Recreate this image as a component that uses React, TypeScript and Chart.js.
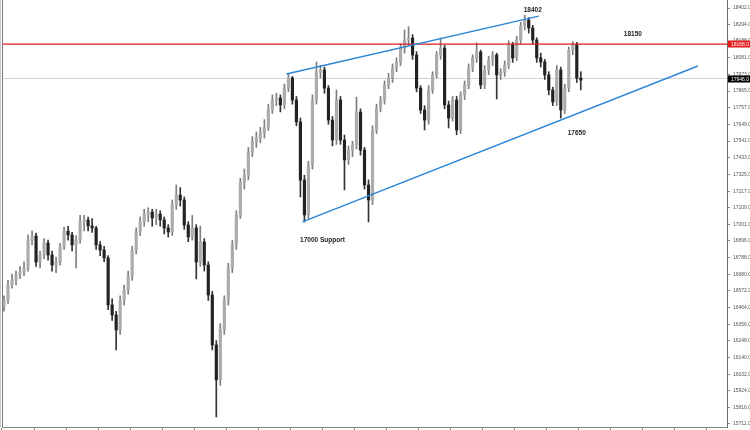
import { useEffect, useRef } from 'react';
import { Chart, registerables } from 'chart.js';

Chart.register(...registerables);

// ---- data (index chart, daily candles) ----
const opens = [
  16470, 16513, 16610, 16642, 16675, 16694, 16720, 16901, 16927, 16759,
  16804, 16882, 16804, 16739, 16759, 16856, 16959, 16934, 16869, 16901,
  17018, 17031, 16992, 16979, 16869, 16836, 16785, 16481, 16416, 16319,
  16513, 16578, 16668, 16836, 16953, 17018, 17069, 17082, 17044, 17069,
  17031, 16979, 16953, 17128, 17192, 17160, 16998, 16921, 16979, 16759,
  16888, 16739, 16545, 16222, 15996, 16319, 16513, 16720, 16869, 17063,
  17276, 17322, 17470, 17535, 17561, 17593, 17632, 17742, 17807, 17820,
  17775, 17884, 17949, 17807, 17665, 17289, 17063, 17386, 17807, 17988,
  18001, 17884, 17677, 17548, 17807, 17548, 17419, 17483, 17516, 17729,
  17483, 17257, 17160, 17613, 17755, 17807, 17904, 17949, 18014, 18053,
  18143, 18195, 18208, 18098, 17884, 17742, 17677, 17872, 17969, 18098,
  18143, 17775, 17690, 17807, 17613, 17839, 17904, 18014, 18079, 18117,
  17904, 18001, 18066, 18098, 17969, 17988, 18033, 18163, 18079, 18195,
  18286, 18324, 18273, 18195, 18079, 18053, 17969, 17872, 17794, 18001,
  17742, 17884, 18130, 18163, 17949,
];
const highs = [
  16540, 16640, 16680, 16700, 16730, 16760, 16935, 16960, 16945, 16830,
  16910, 16900, 16830, 16790, 16880, 16985, 16990, 16950, 16930, 17060,
  17060, 17050, 17040, 16990, 16890, 16860, 16800, 16520, 16440, 16540,
  16610, 16700, 16860, 16980, 17050, 17100, 17110, 17100, 17100, 17090,
  17050, 17000, 17160, 17257, 17240, 17180, 17020, 17060, 17000, 16992,
  16910, 16760, 16570, 16250, 16360, 16540, 16750, 16900, 17090, 17300,
  17360, 17500, 17570, 17600, 17630, 17680, 17780, 17840, 17850, 17840,
  17910, 17975, 17960, 17830, 17690, 17320, 17410, 17840, 18053, 18030,
  18020, 17900, 17700, 17872, 17830, 17580, 17510, 17540, 17826, 17750,
  17500, 17290, 17640, 17780, 17830, 17930, 17980, 18040, 18080, 18170,
  18260, 18281, 18230, 18120, 17900, 17770, 17900, 17990, 18120, 18208,
  18160, 17800, 17830, 17830, 17860, 17930, 18040, 18100, 18177, 18130,
  18030, 18090, 18120, 18110, 18010, 18060, 18190, 18180, 18220, 18310,
  18356, 18340, 18290, 18210, 18110, 18070, 17990, 17890, 18030, 18020,
  17910, 18150, 18184, 18180, 17990,
];
const lows = [
  16440, 16490, 16590, 16610, 16650, 16670, 16700, 16870, 16730, 16720,
  16780, 16770, 16700, 16690, 16740, 16840, 16900, 16830, 16720, 16880,
  16960, 16960, 16950, 16840, 16800, 16760, 16450, 16380, 16190, 16290,
  16480, 16550, 16640, 16810, 16930, 16990, 17020, 16990, 17000, 16990,
  16940, 16920, 16930, 17100, 17120, 16970, 16890, 16900, 16649, 16730,
  16700, 16510, 16190, 15756, 15960, 16290, 16480, 16690, 16840, 17040,
  17230, 17290, 17440, 17500, 17530, 17560, 17610, 17720, 17770, 17730,
  17750, 17860, 17780, 17640, 17180, 17018, 17040, 17360, 17780, 17950,
  17850, 17650, 17510, 17520, 17520, 17225, 17390, 17440, 17490, 17450,
  17230, 17018, 17130, 17590, 17730, 17780, 17880, 17920, 17990, 18030,
  18110, 18160, 18070, 17860, 17720, 17613, 17650, 17850, 17950, 18070,
  17750, 17626, 17670, 17582, 17590, 17810, 17880, 17990, 18050, 17880,
  17880, 17970, 18030, 17813, 17940, 17960, 18010, 18050, 18060, 18170,
  18260, 18240, 18170, 18050, 18020, 17940, 17840, 17770, 17770, 17690,
  17720, 17860, 18100, 17920, 17872,
];
const closes = [
  16513, 16610, 16642, 16675, 16694, 16720, 16901, 16927, 16759, 16804,
  16882, 16804, 16739, 16759, 16856, 16959, 16934, 16869, 16901, 17018,
  17031, 16992, 16979, 16869, 16836, 16785, 16481, 16416, 16319, 16513,
  16578, 16668, 16836, 16953, 17018, 17069, 17082, 17044, 17069, 17031,
  16979, 16953, 17128, 17192, 17160, 16998, 16921, 16979, 16759, 16888,
  16739, 16545, 16222, 15996, 16319, 16513, 16720, 16869, 17063, 17276,
  17322, 17470, 17535, 17561, 17593, 17632, 17742, 17807, 17820, 17775,
  17884, 17949, 17807, 17665, 17289, 17063, 17386, 17807, 17988, 18001,
  17884, 17677, 17548, 17807, 17548, 17419, 17483, 17516, 17729, 17483,
  17257, 17160, 17613, 17755, 17807, 17904, 17949, 18014, 18053, 18143,
  18195, 18208, 18098, 17884, 17742, 17677, 17872, 17969, 18098, 18143,
  17775, 17690, 17807, 17613, 17839, 17904, 18014, 18079, 18117, 17904,
  18001, 18066, 18098, 17969, 17988, 18033, 18163, 18079, 18195, 18286,
  18324, 18273, 18195, 18079, 18053, 17969, 17872, 17794, 18001, 17742,
  17884, 18130, 18163, 17949, 17936,
];

const SLOT_COUNT = 181; // candle slots including empty space on the right
const slotLabels = Array.from({ length: SLOT_COUNT }, (_, i) => String(i));

const yTickValues = [
  18402, 18294, 18188, 18081, 17973, 17865, 17757, 17649, 17541, 17433,
  17325, 17217, 17109, 17001, 16896, 16788, 16680, 16572, 16464, 16356,
  16248, 16140, 16032, 15924, 15816, 15711,
];
const yMin = 15691;
const yMax = 18454;

const resistanceLevel = 18168;
const lastPrice = 17946;

// trend lines: [startIndex, startValue, endIndex, endValue]
const upperTrend = [70.5, 17975, 133.5, 18350];
const lowerTrend = [74.5, 17018, 173.25, 18027];

// text notes: label, slot index (centre), value
const noteLabels = ['18402', '18150', '17650', '17000 Support'];
const noteIndex = [132, 157, 143, 79.5];
const noteValue = [18389, 18234, 17593, 16901];

const UP_BODY = '#ababab';
const UP_WICK = '#7e7e7e';
const DOWN_BODY = '#222222';
const DOWN_WICK = '#333333';

export default function App() {
  const canvasRef = useRef<HTMLCanvasElement | null>(null);

  useEffect(() => {
    document.body.style.margin = '0';
    const canvas = canvasRef.current;
    if (!canvas) return;

    const isUp = opens.map((o, i) => closes[i] >= o);

    const overlay = {
      id: 'overlay',
      afterDatasetsDraw(chart: any) {
        const ctx = chart.ctx;
        const xs = chart.scales.x2;
        const ys = chart.scales.y;
        const area = chart.chartArea;
        ctx.save();
        // left frame
        ctx.strokeStyle = '#c8c8c8';
        ctx.lineWidth = 1;
        ctx.beginPath();
        ctx.moveTo(0.5, 0);
        ctx.lineTo(0.5, area.bottom);
        ctx.stroke();
        ctx.strokeStyle = '#7a7a7a';
        ctx.beginPath();
        ctx.moveTo(2.5, 0);
        ctx.lineTo(2.5, area.bottom);
        ctx.stroke();
        // notes
        ctx.fillStyle = '#1a1a1a';
        ctx.font = 'bold 6.5px "Liberation Sans", Arial, sans-serif';
        ctx.textAlign = 'center';
        ctx.textBaseline = 'middle';
        noteLabels.forEach((t, i) => {
          ctx.fillText(t, xs.getPixelForValue(noteIndex[i]), ys.getPixelForValue(noteValue[i]));
        });
        ctx.restore();
      },
      afterDraw(chart: any) {
        const ctx = chart.ctx;
        const ys = chart.scales.y;
        const area = chart.chartArea;
        ctx.save();
        ctx.font = '5px "Liberation Sans", Arial, sans-serif';
        ctx.textAlign = 'left';
        ctx.textBaseline = 'middle';
        const boxes: [number, string][] = [
          [resistanceLevel, '#e31b1b'],
          [lastPrice, '#000000'],
        ];
        boxes.forEach(([v, col]) => {
          const y = Math.round(ys.getPixelForValue(v));
          ctx.fillStyle = col;
          ctx.fillRect(area.right + 1, y - 3.5, 750 - area.right - 1, 7);
          ctx.fillStyle = '#ffffff';
          ctx.fillText(v.toFixed(1), area.right + 4, y + 0.5);
        });
        ctx.restore();
      },
    };

    const chart = new Chart(canvas, {
      type: 'bar',
      data: {
        labels: slotLabels,
        datasets: [
          {
            type: 'bar',
            label: 'wick',
            data: lows.map((l, i) => [l, highs[i]]) as any,
            backgroundColor: isUp.map((u) => (u ? UP_WICK : DOWN_WICK)),
            barThickness: 1,
            grouped: false,
            order: 4,
          } as any,
          {
            type: 'bar',
            label: 'body',
            data: opens.map((o, i) => [o, closes[i]]) as any,
            backgroundColor: isUp.map((u) => (u ? UP_BODY : DOWN_BODY)),
            barThickness: 2.5,
            minBarLength: 1,
            grouped: false,
            order: 3,
          } as any,
          {
            type: 'line',
            label: 'last',
            xAxisID: 'x2',
            data: [
              { x: -0.5, y: lastPrice },
              { x: SLOT_COUNT - 0.5, y: lastPrice },
            ],
            borderColor: '#d4d4d4',
            borderWidth: 1,
            pointRadius: 0,
            order: 5,
          } as any,
          {
            type: 'line',
            label: 'resistance',
            xAxisID: 'x2',
            data: [
              { x: -0.5, y: resistanceLevel },
              { x: SLOT_COUNT - 0.5, y: resistanceLevel },
            ],
            borderColor: '#e31b1b',
            borderWidth: 1.2,
            pointRadius: 0,
            order: 1,
          } as any,
          {
            type: 'line',
            label: 'upper',
            xAxisID: 'x2',
            data: [
              { x: upperTrend[0], y: upperTrend[1] },
              { x: upperTrend[2], y: upperTrend[3] },
            ],
            borderColor: '#2b86d9',
            borderWidth: 1.4,
            pointRadius: 0,
            order: 0,
          } as any,
          {
            type: 'line',
            label: 'lower',
            xAxisID: 'x2',
            data: [
              { x: lowerTrend[0], y: lowerTrend[1] },
              { x: lowerTrend[2], y: lowerTrend[3] },
            ],
            borderColor: '#2b86d9',
            borderWidth: 1.4,
            pointRadius: 0,
            order: 0,
          } as any,
        ],
      },
      options: {
        animation: false,
        responsive: false,
        devicePixelRatio: 1,
        layout: { padding: { left: 2, right: 0, top: 0, bottom: 0 } },
        plugins: {
          legend: { display: false },
          tooltip: { enabled: false },
        },
        scales: {
          x: {
            type: 'category',
            offset: true,
            ticks: { display: false, autoSkip: false, maxRotation: 0 },
            grid: {
              offset: true,
              drawOnChartArea: false,
              drawTicks: true,
              tickLength: 3,
              color: (ctx: any) => (ctx.index % 8 === 0 ? '#8a8a8a' : 'rgba(0,0,0,0)'),
            },
            border: { display: true, color: '#8a8a8a', width: 1 },
            afterFit: (s: any) => {
              s.height = 3;
              s.paddingLeft = 0;
              s.paddingRight = 0;
            },
          },
          x2: {
            type: 'linear',
            display: false,
            offset: false,
            grid: { offset: false },
            bounds: 'ticks',
            min: -0.5,
            max: SLOT_COUNT - 0.5,
          },
          y: {
            type: 'linear',
            position: 'right',
            min: yMin,
            max: yMax,
            afterBuildTicks: (s: any) => {
              s.ticks = yTickValues.map((v) => ({ value: v }));
            },
            ticks: {
              padding: 3,
              color: '#555555',
              font: { family: '"Liberation Sans", Arial, sans-serif', size: 5 },
              callback: (v: any) => Number(v).toFixed(1),
            },
            grid: {
              drawOnChartArea: false,
              drawTicks: true,
              tickLength: 3,
              color: '#8a8a8a',
            },
            border: { display: true, color: '#6a6a6a', width: 1 },
            afterFit: (s: any) => {
              s.width = 23;
              s.paddingTop = 0;
              s.paddingBottom = 0;
            },
          },
        },
      } as any,
      plugins: [overlay],
    });

    return () => {
      chart.destroy();
    };
  }, []);

  return (
    <div style={{ width: 750, height: 430, background: '#ffffff' }}>
      <canvas ref={canvasRef} width={750} height={430} style={{ display: 'block' }} />
    </div>
  );
}
